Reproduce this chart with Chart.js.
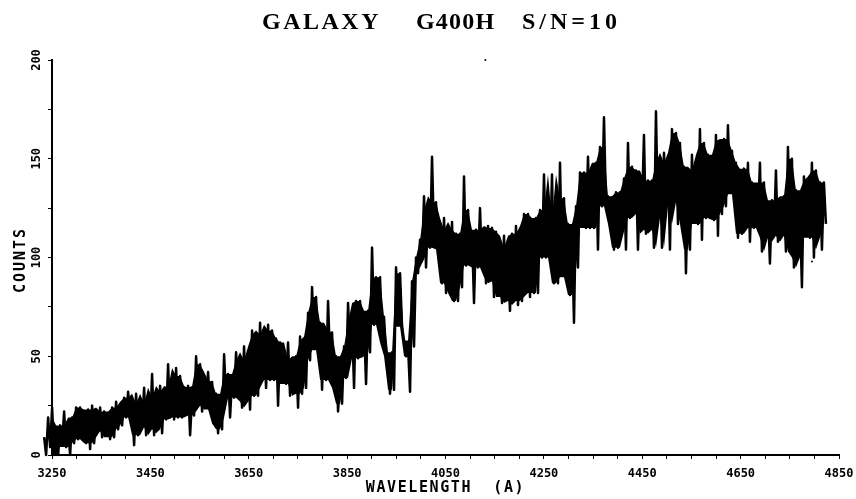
<!DOCTYPE html>
<html>
<head>
<meta charset="utf-8">
<style>
  html, body { margin: 0; padding: 0; background: #fff; }
  canvas { display: block; }
</style>
<script src="https://cdn.jsdelivr.net/npm/chart.js@4/dist/chart.umd.min.js"></script>
</head>
<body>
<canvas id="spectrum" width="856" height="499"></canvas>
<script>
// wavelength of the first sample and spacing of samples, in angstrom
var firstWave = 3234;
var waveStep = 8.13;

// top of the noise band
var countsHigh = [
  9,19,24,14,15,22,13,19,24,24,18,23,25,20,24,22,20,24,27,24,29,32,24,31,26,34,24,41,29,35,32,46,
  34,44,40,34,35,29,50,46,38,42,37,31,30,51,41,39,52,48,55,44,63,61,67,60,66,63,59,57,47,57,48,50,60,
  58,72,85,80,67,63,78,62,50,39,55,77,67,78,78,66,73,105,90,90,70,47,52,95,92,58,55,88,100,109,
  131,124,151,128,114,120,114,118,112,112,141,124,112,114,125,110,116,115,113,105,111,95,112,116,102,122,122,110,120,124,142,119,142,114,148,130,117,112,126,
  143,143,151,143,148,156,171,131,130,133,133,140,158,146,144,139,162,139,139,174,148,153,148,165,163,158,146,137,152,144,165,
  158,152,142,162,159,160,167,154,148,138,145,148,138,135,148,138,125,129,144,129,131,156,150,134,122,141,139,148,144,138,138
];

// bottom of the noise band
var countsLow = [
  0,4,0,0,6,4,0,6,8,8,6,3,6,12,9,13,8,9,13,15,19,20,5,10,14,10,15,10,13,11,18,19,
  18,19,19,23,10,20,29,22,25,23,16,11,13,29,19,29,29,24,27,23,30,30,38,34,38,38,25,41,36,30,36,24,31,
  34,48,55,53,33,38,48,34,22,26,39,53,34,49,50,36,52,66,72,57,50,31,33,68,65,50,32,55,92,99,
  95,105,110,104,87,82,89,78,78,85,96,100,77,95,95,87,90,80,88,77,80,73,78,76,78,94,80,82,82,100,100,100,87,87,99,90,81,67,95,
  119,115,115,115,104,126,126,117,104,105,113,104,120,122,104,124,112,114,105,120,105,126,104,135,117,128,92,104,122,117,109,
  120,120,119,111,122,126,133,132,110,112,115,108,115,119,103,110,97,111,108,111,103,119,95,100,85,122,110,100,110,104,117
];

// stray specks on the scan
var speckWaves = [4131, 4795];
var speckCounts = [200, 98];

var titleParts = ["GALAXY", "G400H", "S/N=10"];
var xTitle = "WAVELENGTH  (A)";
var yTitle = "COUNTS";

function middleOf(p, q, r) {
  return [p, q, r].sort(function (s, t) { return s - t; })[1];
}

var spectrum = [];
var coreTop = [];
var coreBottom = [];
for (var i = 0; i < countsHigh.length; i++) {
  var wave = firstWave + i * waveStep;
  spectrum.push({ x: wave, y: countsHigh[i] });
  spectrum.push({ x: wave + 0.5 * waveStep, y: countsLow[i] });
  // solid middle of the band, the scan has inked in everything but the spikes
  var prev = Math.max(i - 1, 0);
  var next = Math.min(i + 1, countsHigh.length - 1);
  var upper = middleOf(countsHigh[prev], countsHigh[i], countsHigh[next]);
  var lower = middleOf(countsLow[prev], countsLow[i], countsLow[next]);
  coreTop.push({ x: wave, y: upper });
  coreBottom.push({ x: wave, y: lower });
}

var specks = [];
for (var j = 0; j < speckWaves.length; j++) {
  specks.push({ x: speckWaves[j], y: speckCounts[j] });
}

function spacedText(c, text, x, y, spacing) {
  c.letterSpacing = spacing;
  c.fillText(text, x, y);
}

// chart.js titles have no letter spacing, the scan has wide lettering
var spacedLabels = {
  id: "spacedLabels",
  afterDraw: function (chart) {
    var c = chart.ctx;
    var area = chart.chartArea;
    c.save();
    c.fillStyle = "#000";
    c.textBaseline = "middle";
    c.textAlign = "left";

    c.font = "bold 24px 'Liberation Serif'";
    spacedText(c, titleParts[0], 262, 23, "2.5px");
    spacedText(c, titleParts[1], 416, 23, "1.2px");
    spacedText(c, titleParts[2], 522, 23, "4px");

    c.textAlign = "center";
    c.font = "bold 15px 'DejaVu Sans Mono'";
    spacedText(c, xTitle, (area.left + area.right) / 2, 488, "1.6px");

    c.translate(21, 260);
    c.rotate(-Math.PI / 2);
    spacedText(c, yTitle, 0, 0, "2px");
    c.restore();
  }
};

var tickFont = { family: "DejaVu Sans Mono", size: 12, weight: "bold" };

var ctx = document.getElementById("spectrum");
var SpectrumChart = new Chart(ctx, {
  type: "line",
  plugins: [spacedLabels],
  data: {
    datasets: [
      {
        label: "counts",
        data: spectrum,
        borderColor: "#000",
        borderWidth: 2.5,
        borderJoinStyle: "round",
        pointRadius: 0,
        tension: 0,
        fill: false,
        clip: false
      },
      {
        label: "band top",
        data: coreTop,
        borderWidth: 0,
        pointRadius: 0,
        tension: 0,
        backgroundColor: "#000",
        fill: "+1",
        clip: false
      },
      {
        label: "band bottom",
        data: coreBottom,
        borderWidth: 0,
        pointRadius: 0,
        tension: 0,
        fill: false,
        clip: false
      },
      {
        label: "specks",
        data: specks,
        showLine: false,
        pointRadius: 1,
        pointBackgroundColor: "#000",
        pointBorderWidth: 0,
        clip: false
      }
    ]
  },
  options: {
    responsive: false,
    animation: false,
    layout: { padding: { top: 60, right: 17, bottom: 0, left: 0 } },
    plugins: {
      legend: { display: false },
      tooltip: { enabled: false }
    },
    scales: {
      x: {
        type: "linear",
        // set here and not as min/max: the spectrum starts left of the axis and a user min would trim it
        afterDataLimits: function (scale) { scale.min = 3250; scale.max = 4850; },
        afterFit: function (scale) {
          scale.height = 44;
          scale.paddingLeft = 0;
          scale.paddingRight = 0;
        },
        border: { color: "#000", width: 2 },
        grid: { drawOnChartArea: false, color: "#000", lineWidth: 1, tickLength: 4 },
        ticks: {
          stepSize: 50,
          autoSkip: false,
          maxRotation: 0,
          color: "#000",
          font: tickFont,
          padding: 8,
          callback: function (value) { return (value - 3250) % 200 === 0 ? String(value) : ""; }
        }
      },
      y: {
        min: 0,
        max: 200,
        afterFit: function (scale) { scale.width = 52; },
        border: { color: "#000", width: 2 },
        grid: { drawOnChartArea: false, color: "#000", lineWidth: 1, tickLength: 4 },
        ticks: {
          stepSize: 25,
          autoSkip: false,
          minRotation: 90,
          maxRotation: 90,
          crossAlign: "center",
          color: "#000",
          font: tickFont,
          padding: 0,
          callback: function (value) { return value % 50 === 0 ? String(value) : ""; }
        }
      }
    }
  }
});
</script>
</body>
</html>
